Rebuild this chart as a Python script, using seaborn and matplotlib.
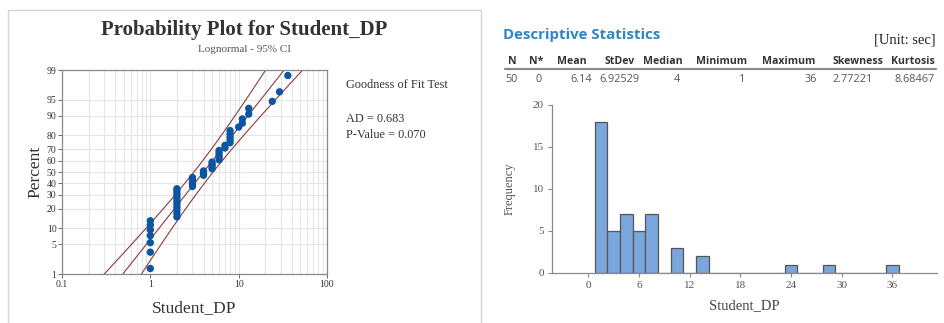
import numpy as np
import seaborn as sns
import matplotlib.pyplot as plt
from matplotlib.patches import Rectangle
from matplotlib.ticker import FixedLocator, NullFormatter
from statistics import NormalDist

# Student_DP values and how many times each occurs (n = 50)
dp_values = [1, 2, 3, 4, 5, 6, 7, 8, 10, 11, 13, 24, 29, 36]
dp_counts = [7, 11, 5, 3, 4, 5, 2, 5, 1, 2, 2, 1, 1, 1]

pct_ticks = [1, 5, 10, 20, 30, 40, 50, 60, 70, 80, 90, 95, 99]
x_ticks = [0.1, 1, 10, 100]
x_ticklabels = ["0.1", "1", "10", "100"]
hist_xticks = [0, 6, 12, 18, 24, 30, 36]
hist_yticks = [0, 5, 10, 15, 20]

stat_names = ["N", "N*", "Mean", "StDev", "Median", "Minimum", "Maximum", "Skewness", "Kurtosis"]
stat_values = ["50", "0", "6.14", "6.92529", "4", "1", "36", "2.77221", "8.68467"]
ad_value = 0.683
p_value = 0.070

serif = ["Liberation Serif", "DejaVu Serif"]
sans = ["Open Sans", "DejaVu Sans"]

sns.set_theme(style="white")
plt.rcParams["font.family"] = serif

data = np.repeat(dp_values, dp_counts)
n = len(data)
nd = NormalDist()

fig = plt.figure(figsize=(9.44, 3.23), dpi=100)

# panel frame of the left chart
fig.patches.append(Rectangle((8 / 944, -0.01), 473 / 944, 1 - 10 / 323 + 0.01,
                             transform=fig.transFigure, fill=False,
                             edgecolor="#d4d4d4", linewidth=1.0))

# ---------- probability plot ----------
ax = fig.add_axes([62 / 944, 1 - 274 / 323, 265 / 944, 204 / 323])
xs = np.sort(data)
ranks = (np.arange(1, n + 1) - 0.3) / (n + 0.4)
zs = np.array([nd.inv_cdf(r) for r in ranks])

logs = np.log(data)
mu = logs.mean()
sigma = logs.std()  # MLE
zz = np.linspace(-3.2, 3.2, 200)
fit = np.exp(mu + zz * sigma)
half = 1.96 * sigma * np.sqrt((1 + zz ** 2 / 2) / n)
lo = fit * np.exp(-half)
hi = fit * np.exp(half)

ax.set_xscale("log")
line_col = "#8c3b3b"
for xv in (fit, lo, hi):
    ax.plot(xv, zz, color=line_col, linewidth=0.8, zorder=2)
sns.scatterplot(x=xs, y=zs, ax=ax, color="#0b55a2", s=28, edgecolor="none", zorder=3)

ax.set_xlim(0.1, 100)
ax.set_ylim(nd.inv_cdf(0.01), nd.inv_cdf(0.99))
ax.set_xticks(x_ticks)
ax.set_xticklabels(x_ticklabels)
ax.xaxis.set_minor_locator(FixedLocator([m * 10.0 ** e for e in (-1, 0, 1) for m in range(2, 10)]))
ax.xaxis.set_minor_formatter(NullFormatter())
ax.set_yticks([nd.inv_cdf(p / 100) for p in pct_ticks])
ax.set_yticklabels([str(p) for p in pct_ticks])
ax.grid(True, which="both", color="#e6e6e6", linewidth=0.8)
ax.set_axisbelow(True)
ax.tick_params(axis="both", which="major", labelsize=7, length=3, width=0.6,
               colors="#555555", labelcolor="#333333", pad=1)
ax.tick_params(axis="both", which="minor", length=0)
ax.tick_params(axis="x", bottom=True, direction="out")
ax.tick_params(axis="y", left=True, direction="out")
for sp in ax.spines.values():
    sp.set_color("#8a8a8a")
    sp.set_linewidth(0.9)
ax.set_xlabel("Student_DP", fontsize=12.5, color="#333333", labelpad=8)
ax.set_ylabel("Percent", fontsize=12.5, color="#333333", labelpad=2)

fig.text(244 / 944, 1 - 30 / 323, "Probability Plot for Student_DP", ha="center", va="center",
         fontsize=15, fontweight="bold", color="#333333")
fig.text(244 / 944, 1 - 50 / 323, "Lognormal - 95% CI", ha="center", va="center",
         fontsize=8, color="#555555")
fig.text(346 / 944, 1 - 85 / 323, "Goodness of Fit Test", ha="left", va="center",
         fontsize=8.8, color="#333333")
fig.text(346 / 944, 1 - 119 / 323, f"AD = {ad_value:.3f}", ha="left", va="center",
         fontsize=8.8, color="#333333")
fig.text(346 / 944, 1 - 135 / 323, f"P-Value = {p_value:.3f}", ha="left", va="center",
         fontsize=8.8, color="#333333")

# ---------- descriptive statistics ----------
fig.text(503 / 944, 1 - 35 / 323, "Descriptive Statistics", ha="left", va="center",
         fontsize=10.8, fontweight="bold", color="#2f86c6", family=sans)
fig.text(936 / 944, 1 - 40 / 323, "[Unit: sec]", ha="right", va="center",
         fontsize=10.5, color="#222222")
head_right = [517, 543, 587, 635, 683, 747, 815, 883, 935]
val_right = [518, 542, 592, 640, 680, 745, 817, 873, 935]
for name, xr in zip(stat_names, head_right):
    fig.text(xr / 944, 1 - 62 / 323, name, ha="right", va="center", fontsize=7.6,
             fontweight="bold", color="#333333", family=sans)
for val, xr in zip(stat_values, val_right):
    fig.text(xr / 944, 1 - 80 / 323, val, ha="right", va="center", fontsize=7.8,
             color="#555555", family=sans)
fig.add_artist(plt.Line2D([505 / 944, 936 / 944], [1 - 69 / 323, 1 - 69 / 323],
                          transform=fig.transFigure, color="#8a8a8a", linewidth=1.6))

# ---------- histogram ----------
hx = fig.add_axes([552 / 944, 1 - 273 / 323, 385 / 944, 168 / 323])
sns.histplot(x=data, ax=hx, binwidth=1.5, binrange=(0.75, 36.75), color="#7aa6dd",
             edgecolor="#555555", linewidth=0.9, alpha=1)
hx.set_xlim(-4.3, 41.3)
hx.set_ylim(0, 20)
hx.set_xticks(hist_xticks)
hx.set_yticks(hist_yticks)
hx.tick_params(labelsize=8, colors="#888888", labelcolor="#555555", length=3, width=0.8,
               bottom=True, left=True, direction="out", pad=3)
for s in ("top", "right"):
    hx.spines[s].set_visible(False)
for s in ("left", "bottom"):
    hx.spines[s].set_color("#8a8a8a")
    hx.spines[s].set_linewidth(0.9)
hx.set_xlabel("Student_DP", fontsize=10.5, color="#444444", labelpad=6)
hx.set_ylabel("Frequency", fontsize=9, color="#555555", labelpad=12)

fig.savefig("out.png", dpi=100)
